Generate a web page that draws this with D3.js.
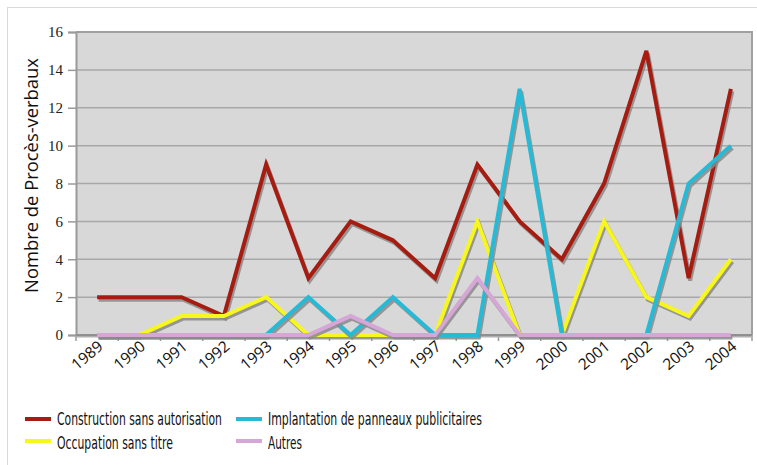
<!DOCTYPE html>
<html>
<head>
<meta charset="utf-8">
<script src="https://cdn.jsdelivr.net/npm/d3@7"></script>
<style>
  html, body { margin: 0; padding: 0; background: #fff; }
  svg { display: block; }
</style>
</head>
<body>
<svg id="chart" width="757" height="465"></svg>
<script>
// Procès-verbaux per year and category
const years = ["1989","1990","1991","1992","1993","1994","1995","1996",
               "1997","1998","1999","2000","2001","2002","2003","2004"];
const construction = [2,2,2,1,9,3,6,5,3,9,6,4,8,15,3,13];
const occupation   = [0,0,1,1,2,0,0,0,0,6,0,0,6,2,1,4];
const implantation = [0,0,0,0,0,2,0,2,0,0,13,0,0,0,8,10];
const autres       = [0,0,0,0,0,0,1,0,0,3,0,0,0,0,0,0];
const seriesNames  = ["Construction sans autorisation","Occupation sans titre",
                      "Implantation de panneaux publicitaires","Autres"];
const seriesColors = ["#a61c10","#f7f71f","#26bad6","#d6a6d6"];
const yTicks = [0,2,4,6,8,10,12,14,16];

const series = [construction, occupation, implantation, autres].map((v, i) => ({
  name: seriesNames[i], color: seriesColors[i], values: v
}));

const svg = d3.select("#chart");
const plot = { left: 76, top: 32, right: 752, bottom: 335 };

// squeeze a text element horizontally so it spans the given width
function fitWidth(sel, x, y, w, rot) {
  const len = sel.node().getComputedTextLength();
  const k = Math.min(1.15, w / len);
  sel.attr("transform", `translate(${x},${y})${rot ? ` rotate(${rot})` : ""} scale(${k},1)`);
}

// outer frame
svg.append("rect").attr("x", 7.5).attr("y", 7.5).attr("width", 800).attr("height", 500)
  .attr("fill", "none").attr("stroke", "#d9d9d9").attr("stroke-width", 1);

const x = d3.scaleBand().domain(years).range([plot.left, plot.right]).padding(0);
const y = d3.scaleLinear().domain([0, 16]).range([plot.bottom, plot.top]);
const cx = d => x(d) + x.bandwidth() / 2;

// plot background
svg.append("rect").attr("x", plot.left).attr("y", plot.top)
  .attr("width", plot.right - plot.left).attr("height", plot.bottom - plot.top)
  .attr("fill", "#d8d8d8");

// gridlines
svg.append("g").selectAll("line").data(yTicks.filter(t => t > 0)).join("line")
  .attr("x1", plot.left).attr("x2", plot.right)
  .attr("y1", d => y(d)).attr("y2", d => y(d))
  .attr("stroke", "#a8a8a8").attr("stroke-width", 1.5);

// plot frame: top and right edges
svg.append("path")
  .attr("d", `M${plot.left},${plot.top}H${plot.right}V${plot.bottom}`)
  .attr("fill", "none").attr("stroke", "#a0a0a0").attr("stroke-width", 2);

// y axis
const yAxis = svg.append("g").attr("transform", `translate(${plot.left},0)`)
  .call(d3.axisLeft(y).tickValues(yTicks).tickSize(8).tickPadding(5).tickFormat(d3.format("d")));
yAxis.select(".domain").attr("stroke", "#9a9a9a").attr("stroke-width", 2);
yAxis.selectAll(".tick line").attr("stroke", "#9a9a9a").attr("stroke-width", 1.5);
yAxis.selectAll(".tick text").attr("font-family", "'Liberation Serif', 'DejaVu Serif', serif")
  .attr("font-size", 15).attr("fill", "#222");

// y title
const yTitle = svg.append("text")
  .attr("text-anchor", "middle")
  .attr("font-family", "'Open Sans', sans-serif").attr("font-size", 18).attr("fill", "#111")
  .text("Nombre de Procès-verbaux");
fitWidth(yTitle, 38, 175.5, 235, -90);

// x axis
const xAxis = svg.append("g").attr("transform", `translate(0,${plot.bottom})`)
  .call(d3.axisBottom(x).tickSize(0).tickFormat(d => d));
xAxis.select(".domain").remove();
svg.append("g").selectAll("line").data(d3.range(years.length + 1)).join("line")
  .attr("x1", i => plot.left + i * x.bandwidth())
  .attr("x2", i => plot.left + i * x.bandwidth())
  .attr("y1", plot.bottom).attr("y2", plot.bottom + 6)
  .attr("stroke", "#9a9a9a").attr("stroke-width", 1.5);
xAxis.selectAll(".tick text")
  .attr("font-family", "'Open Sans', sans-serif").attr("font-size", 15.5).attr("fill", "#111")
  .attr("text-anchor", "end").attr("dy", null).attr("y", 0)
  .attr("transform", "translate(7,13) rotate(-40)");

// line generator
const line = d3.line().x((d, i) => cx(years[i])).y(d => y(d));

// axis baseline with shadow
svg.append("line").attr("x1", plot.left).attr("x2", plot.right)
  .attr("y1", plot.bottom + 1.5).attr("y2", plot.bottom + 1.5)
  .attr("stroke", "#b0b0b0").attr("stroke-width", 2);
svg.append("line").attr("x1", plot.left).attr("x2", plot.right)
  .attr("y1", plot.bottom).attr("y2", plot.bottom)
  .attr("stroke", "#8f8f8f").attr("stroke-width", 2);

// series lines with drop shadows
const lines = svg.append("g");
series.forEach(s => {
  lines.append("path").datum(s.values)
    .attr("d", line).attr("fill", "none")
    .attr("stroke", "#8a8a8a").attr("stroke-width", 4).attr("stroke-opacity", 0.85)
    .attr("transform", "translate(1.5,2.5)");
  lines.append("path").datum(s.values)
    .attr("d", line).attr("fill", "none")
    .attr("stroke", s.color).attr("stroke-width", 4);
});

// legend, two columns
const legendItems = [
  { i: 0, x: 25, y: 419, ty: 425, w: 165 },
  { i: 1, x: 25, y: 441, ty: 449, w: 116 },
  { i: 2, x: 236, y: 419, ty: 425, w: 214 },
  { i: 3, x: 236, y: 441, ty: 449, w: 34 }
];
const legend = svg.append("g");
legendItems.forEach(it => {
  const s = series[it.i];
  legend.append("line").attr("x1", it.x).attr("x2", it.x + 26)
    .attr("y1", it.y).attr("y2", it.y)
    .attr("stroke", s.color).attr("stroke-width", 4);
  const t = legend.append("text")
    .attr("font-family", "'Liberation Sans Narrow', 'DejaVu Sans Condensed', 'Open Sans', sans-serif")
    .attr("font-size", 17.5).attr("fill", "#111")
    .text(s.name);
  fitWidth(t, it.x + 32, it.ty, it.w, 0);
});
</script>
</body>
</html>
